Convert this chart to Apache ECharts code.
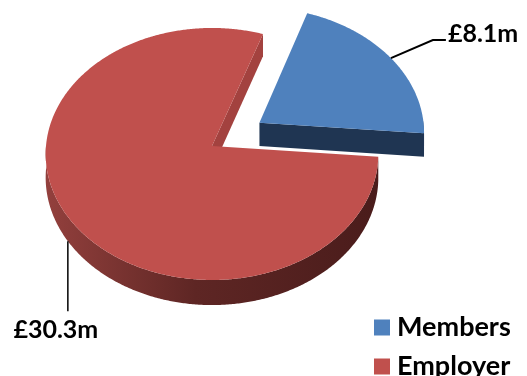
<!DOCTYPE html>
<html><head><meta charset="utf-8">
<script src="https://cdn.jsdelivr.net/npm/echarts@6/dist/echarts.min.js"></script>
<style>html,body{margin:0;padding:0;background:#fff}#c{width:527px;height:376px}</style>
</head><body><div id="c"></div>
<script>
const categories = ['Members', 'Employer'];
const values = [8.1, 30.3];
const valueLabels = ['£8.1m', '£30.3m'];
const topColors = ['#4F81BD', '#C0504D'];
const cutColors = ['#1F3552', '#A3423F'];
const sideStops = [
  [[0, '#22385A'], [1, '#1C304C']],
  [[0, '#93403D'], [0.45, '#5E2624'], [1, '#4A1C1B']]
];

const G = {cx: 212, cy: 146, rx: 166, ky: 125.5, D: 15.8, h: 23.5, start: 71, explode: [0.345, 0]};
const FONT = 'Lato';
const total = values.reduce((a, b) => a + b, 0);
const rad = d => d * Math.PI / 180;

function proj(X, Z, dep) {
  const s = G.D / (G.D + Z);
  return [G.cx + G.rx * X * s, G.cy - G.ky * Z * s + G.h * dep * s];
}
function sliceAngles(i) {
  let cum = 0;
  for (let j = 0; j < i; j++) cum += values[j];
  const a0 = G.start - cum / total * 360;
  const a1 = a0 - values[i] / total * 360;
  return [a0, a1];
}

function renderSlice(i, params, api) {
  const [a0, a1] = sliceAngles(i);
  const mid = rad((a0 + a1) / 2);
  const ox = G.explode[i] * Math.cos(mid), oz = G.explode[i] * Math.sin(mid);
  const P = (t, dep) => proj(ox + Math.cos(t), oz + Math.sin(t), dep);
  const V = dep => proj(ox, oz, dep);
  const n = Math.max(2, Math.ceil(Math.abs(a0 - a1) * 2));
  const angs = [];
  for (let k = 0; k <= n; k++) angs.push(rad(a0 + (a1 - a0) * k / n));
  const children = [];
  const grad = {type: 'linear', x: 0, y: 0, x2: 1, y2: 0,
    colorStops: sideStops[i].map(s => ({offset: s[0], color: s[1]}))};
  [[a0, Math.cos(rad(a0))], [a1, -Math.cos(rad(a1))]].forEach(([a, nz]) => {
    if (nz < 0) {
      const t = rad(a);
      children.push({type: 'polygon', shape: {points: [V(0), P(t, 0), P(t, 1), V(1)]},
        style: {fill: cutColors[i]}});
    }
  });
  let seg = [];
  const flush = () => {
    if (seg.length > 1) {
      const pts = seg.map(t => P(t, 0)).concat(seg.slice().reverse().map(t => P(t, 1)));
      children.push({type: 'polygon', shape: {points: pts}, style: {fill: grad}});
    }
    seg = [];
  };
  angs.forEach(t => { if (Math.sin(t) <= 0.02) seg.push(t); else flush(); });
  flush();
  children.push({type: 'polygon', shape: {points: [V(0)].concat(angs.map(t => P(t, 0)))},
    style: {fill: topColors[i]}});
  const textStyle = {fill: '#000', fontFamily: FONT, fontWeight: 'bold', fontSize: 25};
  if (i === 0) {
    const p0 = P(mid, 0), p1 = [p0[0] + 42, p0[1] - 18], p2 = [p1[0] + 13, p1[1]];
    children.push({type: 'polyline', shape: {points: [p0, p1, p2]}, style: {stroke: '#000', lineWidth: 2, fill: null}});
    children.push({type: 'text', x: p2[0] + 2, y: p2[1] - 6,
      style: Object.assign({text: valueLabels[i], align: 'left', verticalAlign: 'middle'}, textStyle)});
  } else {
    const p0 = P(mid, 1), p1 = [p0[0], p0[1] + 70];
    children.push({type: 'polyline', shape: {points: [p0, p1]}, style: {stroke: '#000', lineWidth: 1.5, fill: null}});
    children.push({type: 'text', x: p1[0] - 12, y: p1[1] + 19,
      style: Object.assign({text: valueLabels[i], align: 'center', verticalAlign: 'middle'}, textStyle)});
  }
  return {type: 'group', children};
}

const legendTops = [309, 348];
const chart = echarts.init(document.getElementById('c'));
chart.setOption({
  animation: false,
  legend: categories.map((c, i) => ({
    orient: 'vertical', left: 369, top: legendTops[i], icon: 'rect', itemWidth: 16, itemHeight: 16,
    data: [c],
    textStyle: {fontFamily: FONT, fontWeight: 'bold', fontSize: 27, color: '#000', lineHeight: 16, padding: [0, 0, 0, 2]}
  })),
  series: categories.map((c, i) => ({
    type: 'custom', name: c, coordinateSystem: 'none',
    itemStyle: {color: topColors[i]},
    data: [{name: c, value: [values[i]]}],
    renderItem: (params, api) => renderSlice(i, params, api)
  }))
});
</script></body></html>
